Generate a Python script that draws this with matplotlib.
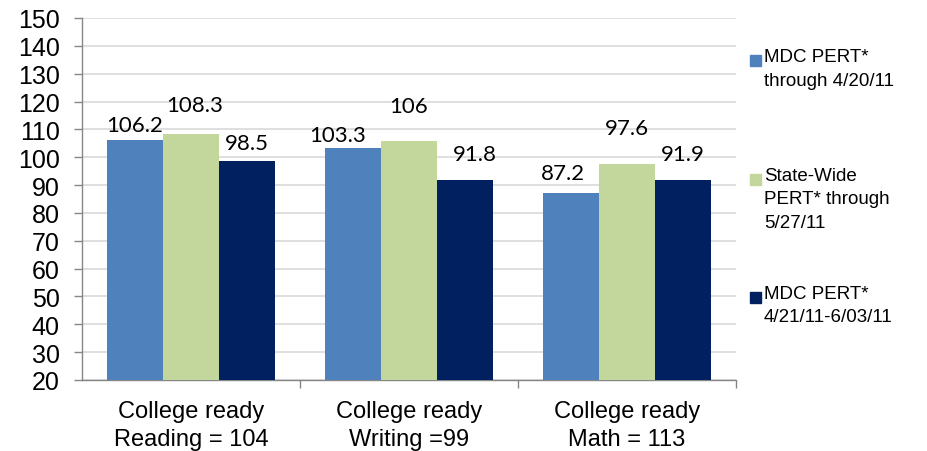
import matplotlib
matplotlib.use("Agg")
import matplotlib.pyplot as plt
import numpy as np
from matplotlib.patches import Rectangle

categories = ["College ready\nReading = 104", "College ready\nWriting =99", "College ready\nMath = 113"]
series_names = ["MDC PERT*\nthrough 4/20/11", "State-Wide\nPERT* through\n5/27/11", "MDC PERT*\n4/21/11-6/03/11"]
mdc_early = [106.2, 103.3, 87.2]
statewide = [108.3, 106.0, 97.6]
mdc_late = [98.5, 91.8, 91.9]
value_labels = [["106.2", "103.3", "87.2"], ["108.3", "106", "97.6"], ["98.5", "91.8", "91.9"]]
y_ticks = list(range(20, 151, 10))

colors = ["#4F81BD", "#C3D69B", "#002060"]
# label offsets in pixels (dx, dy) per series/category
label_offsets = [[(0, 15), (-15, 13), (-8, 20)],
                 [(4, 29), (0, 35), (0, 36)],
                 [(0, 18), (10, 26), (0, 26)]]

plt.rcParams['font.family'] = ['Liberation Sans', 'DejaVu Sans']
fig = plt.figure(figsize=(9.28, 4.52), dpi=100)
ax = fig.add_axes([82/928, 1-381/452, (736-82)/928, (381-19)/452])

x = np.arange(len(categories))
w = 0.257
all_series = [mdc_early, statewide, mdc_late]
for i, vals in enumerate(all_series):
    xs = x + (i - 1) * w
    ax.bar(xs, vals, width=w, color=colors[i], zorder=3, linewidth=0)
    for j, v in enumerate(vals):
        dx, dy = label_offsets[i][j]
        ax.annotate(value_labels[i][j], (xs[j], v), xytext=(dx*0.72, dy*0.72),
                    textcoords='offset points', ha='center', va='center',
                    fontsize=16, family=['Lato', 'DejaVu Sans'], color='black', zorder=4)

ax.set_xlim(-0.5, 2.5)
ax.set_ylim(20, 150)
ax.set_yticks(y_ticks)
ax.set_yticklabels([str(t) for t in y_ticks], fontsize=18)
ax.yaxis.grid(True, color='#D9D9D9', linewidth=1.2, zorder=0)
ax.set_axisbelow(True)

ax.set_xticks(x)
ax.set_xticklabels(categories, fontsize=17, linespacing=1.35)
ax.set_xticks([0.5, 1.5, 2.5], minor=True)
ax.tick_params(axis='x', which='major', length=0, pad=14.5)
ax.tick_params(axis='x', which='minor', length=6, color='#868686', width=1)
ax.tick_params(axis='y', length=6, color='#868686', width=1, pad=10)

for s in ['top', 'right']:
    ax.spines[s].set_visible(False)
for s in ['left', 'bottom']:
    ax.spines[s].set_color('#868686')
    ax.spines[s].set_linewidth(1)

# legend drawn manually
entry_tops = [61, 180, 298]
for i, name in enumerate(series_names):
    yc = entry_tops[i]
    fig.patches.append(Rectangle((750/928, 1-(yc+5.5)/452), 11/928, 11/452,
                                 transform=fig.transFigure, color=colors[i], figure=fig))
    fig.text(764/928, 1-(yc-12)/452, name, fontsize=13.5, va='top', ha='left',
             linespacing=1.5)

fig.savefig("out.png", dpi=100)
